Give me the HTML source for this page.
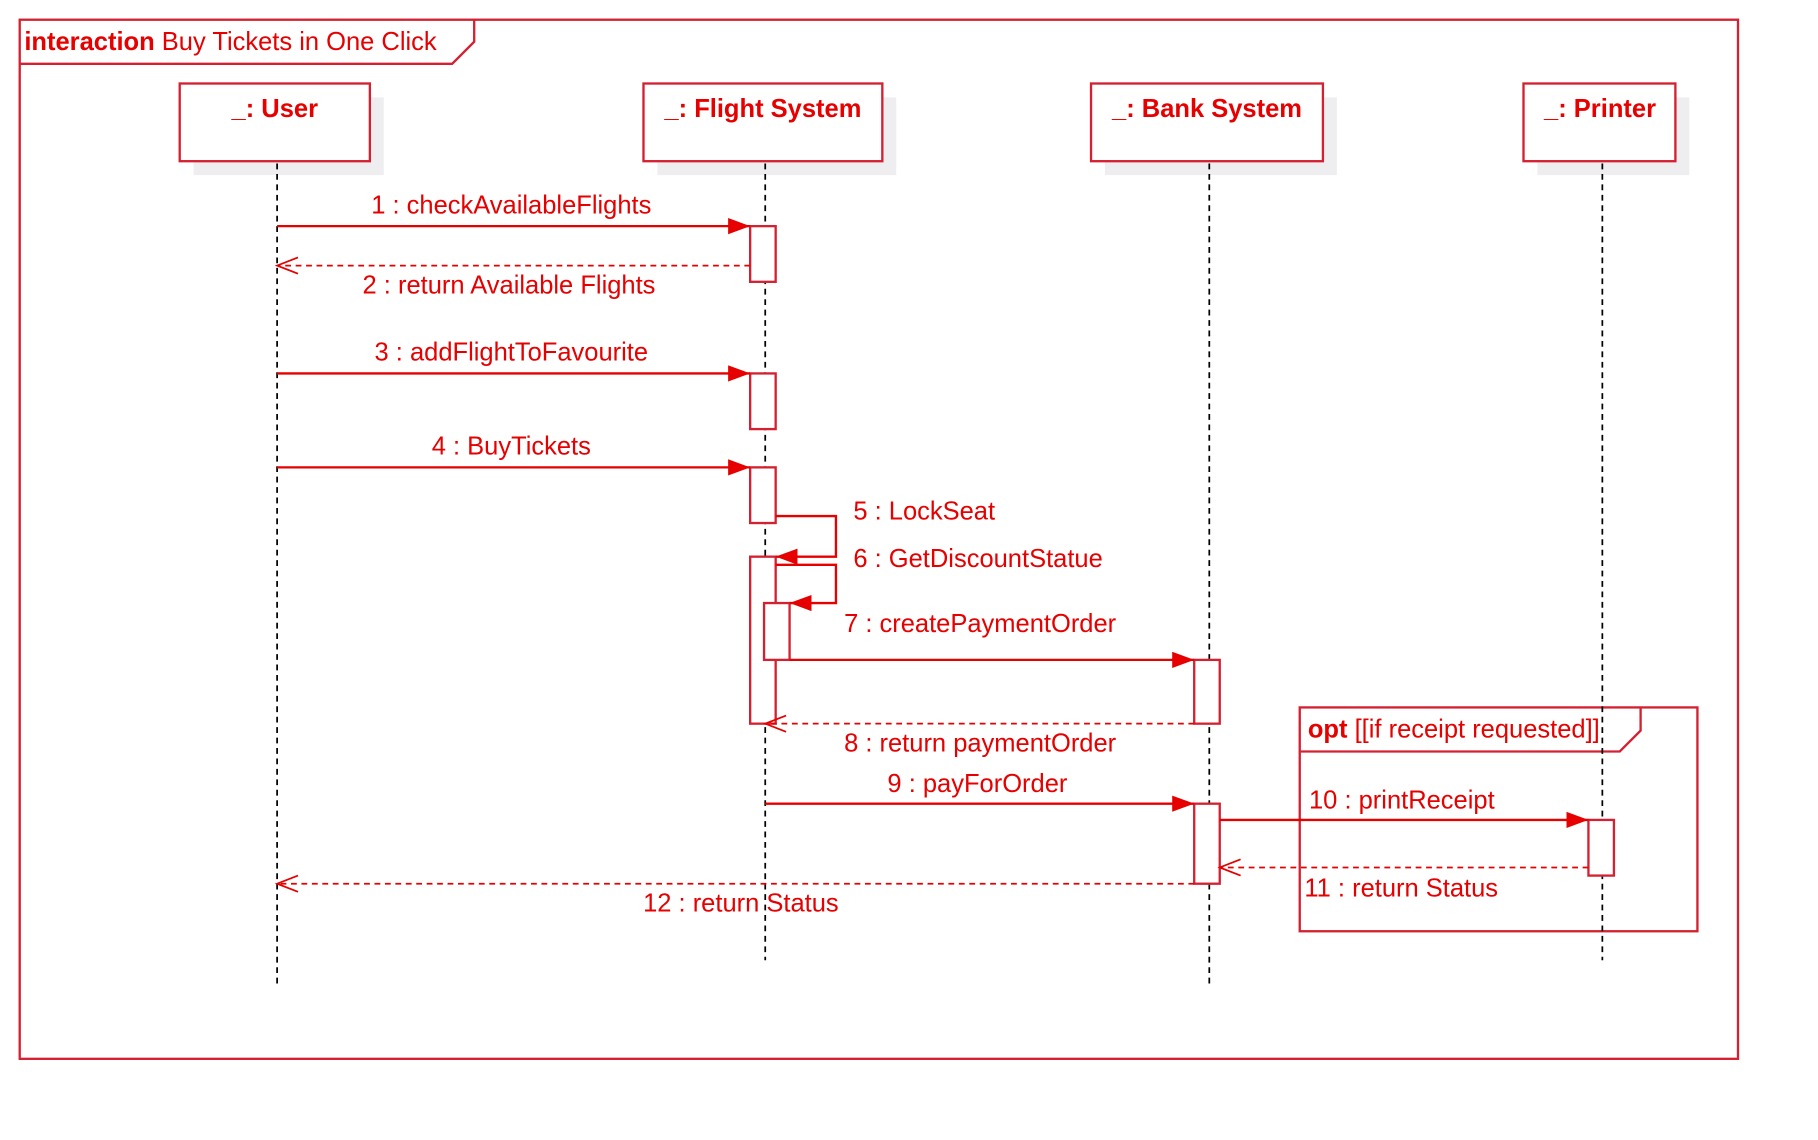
<!DOCTYPE html>
<html><head><meta charset="utf-8"><style>
html,body{margin:0;padding:0;background:#fff;width:1818px;height:1140px;overflow:hidden}
svg{display:block}
text{font-family:"Liberation Sans",Arial,sans-serif;font-size:22px;fill:#e60000}
.b{font-weight:bold}
</style></head><body>
<svg width="1818" height="1140" viewBox="0 0 1568 983" preserveAspectRatio="none" xmlns="http://www.w3.org/2000/svg">
<defs>
<marker id="f" markerWidth="20" markerHeight="14" refX="19" refY="7" orient="auto" markerUnits="userSpaceOnUse"><path d="M0,0 L19,7 L0,14 Z" fill="#e60000"/></marker>
</defs>
<g fill="none" stroke="#d42030" stroke-width="2">
<rect x="17" y="17" width="1482" height="896"/>
<path d="M17,55 H390 L409,36 V17"/>
<rect x="1121" y="610" width="343" height="193"/>
<path d="M1121,648 H1397 L1415,630 V610"/>
</g>
<g fill="#eeeef0">
<rect x="167" y="84" width="164" height="67"/><rect x="567" y="84" width="206" height="67"/>
<rect x="953" y="84" width="200" height="67"/><rect x="1326" y="84" width="131" height="67"/>
</g>
<g fill="#fff" stroke="#d42030" stroke-width="2">
<rect x="155" y="72" width="164" height="67"/><rect x="555" y="72" width="206" height="67"/>
<rect x="941" y="72" width="200" height="67"/><rect x="1314" y="72" width="131" height="67"/>
</g>
<g stroke="#000" stroke-width="1.5" stroke-dasharray="5,4">
<line x1="239" y1="141" x2="239" y2="850"/><line x1="660" y1="141" x2="660" y2="828"/>
<line x1="1043" y1="141" x2="1043" y2="850"/><line x1="1382" y1="141" x2="1382" y2="828"/>
</g>
<g fill="#fff" stroke="#d42030" stroke-width="2">
<rect x="647" y="195" width="22" height="48"/><rect x="647" y="322" width="22" height="48"/>
<rect x="647" y="403" width="22" height="48"/><rect x="647" y="480" width="22" height="144"/>
<rect x="659" y="520" width="22" height="49"/><rect x="1030" y="569" width="22" height="55"/>
<rect x="1030" y="693" width="22" height="69"/><rect x="1370" y="707" width="22" height="48"/>
</g>
<g fill="none" stroke="#e60000" stroke-width="2">
<line x1="239" y1="195" x2="647" y2="195" marker-end="url(#f)"/>
<line x1="239" y1="322" x2="647" y2="322" marker-end="url(#f)"/>
<line x1="239" y1="403" x2="647" y2="403" marker-end="url(#f)"/>
<path d="M669,445 H721 V480 H669" marker-end="url(#f)"/>
<path d="M669,487 H721 V520 H681" marker-end="url(#f)"/>
<line x1="681" y1="569" x2="1030" y2="569" marker-end="url(#f)"/>
<line x1="660" y1="693" x2="1030" y2="693" marker-end="url(#f)"/>
<line x1="1052" y1="707" x2="1370" y2="707" marker-end="url(#f)"/>
</g>
<g fill="none" stroke="#e60000" stroke-width="1.5" stroke-dasharray="5,4">
<line x1="647" y1="229" x2="239" y2="229"/>
<line x1="1030" y1="624" x2="660" y2="624"/>
<line x1="1370" y1="748" x2="1052" y2="748"/>
<line x1="1030" y1="762" x2="239" y2="762"/>
</g>
<g fill="none" stroke="#e60000" stroke-width="1.5">
<path d="M257,222 L239,229 L257,236"/><path d="M678,617 L660,624 L678,631"/>
<path d="M1070,741 L1052,748 L1070,755"/><path d="M257,755 L239,762 L257,769"/>
</g>
<text x="21" y="43"><tspan class="b">interaction</tspan> Buy Tickets in One Click</text>
<g text-anchor="middle">
<text x="237" y="101" class="b">_: User</text><text x="658" y="101" class="b">_: Flight System</text>
<text x="1041" y="101" class="b">_: Bank System</text><text x="1380" y="101" class="b">_: Printer</text>
</g>
<g text-anchor="middle">
<text x="441" y="184">1 : checkAvailableFlights</text>
<text x="439" y="253">2 : return Available Flights</text>
<text x="441" y="311">3 : addFlightToFavourite</text>
<text x="441" y="392">4 : BuyTickets</text>
<text x="843" y="683">9 : payForOrder</text>
<text x="639" y="786">12 : return Status</text>
</g>
<text x="736" y="448">5 : LockSeat</text>
<text x="736" y="489">6 : GetDiscountStatue</text>
<text x="728" y="545">7 : createPaymentOrder</text>
<text x="728" y="648">8 : return paymentOrder</text>
<text x="1129" y="697">10 : printReceipt</text>
<text x="1125" y="773">11 : return Status</text>
<text x="1128" y="636"><tspan class="b">opt</tspan>  [[if receipt requested]]</text>
</svg>
</body></html>
